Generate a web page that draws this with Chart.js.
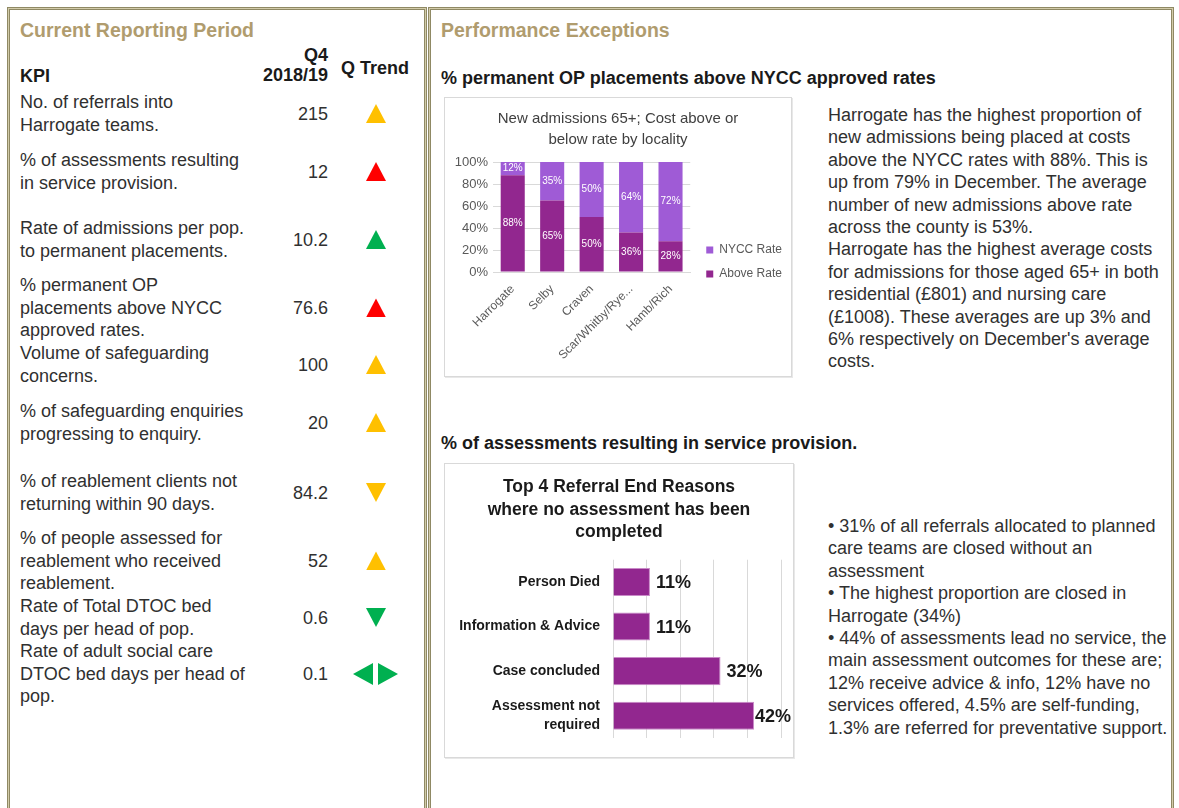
<!DOCTYPE html>
<html>
<head>
<meta charset="utf-8">
<script src="https://cdn.jsdelivr.net/npm/chart.js@4.4.1/dist/chart.umd.min.js"></script>
<style>
  body { margin: 0; width: 1179px; height: 808px; overflow: hidden; background: #fff;
         font-family: "Liberation Sans", Arial, sans-serif; color: #303030; position: relative; }
  .panel { position: absolute; top: 7px; height: 830px; box-sizing: border-box;
           border: 1px solid #8f8964; box-shadow: inset 0 0 0 1px #d2cba9, inset 0 0 0 2px #8f8964; }
  .ptitle { position: absolute; font-weight: bold; font-size: 19.5px; color: #b09c6e; line-height: 22px; }
  .abs { position: absolute; white-space: nowrap; }
  .txt { font-size: 18px; line-height: 22.4px; }
  .bold { font-weight: bold; color: #1a1a1a; }
  .val { position: absolute; font-size: 18px; line-height: 20px; text-align: right; width: 80px; left: 248px; }
  .tri { position: absolute; width: 20px; height: 19px; }
  .up { clip-path: polygon(50% 0, 100% 100%, 0 100%); }
  .down { clip-path: polygon(0 0, 100% 0, 50% 100%); }
  .lf { clip-path: polygon(100% 0, 100% 100%, 0 50%); }
  .rt { clip-path: polygon(0 0, 100% 50%, 0 100%); }
  .cbox { position: absolute; border: 1px solid #d9d9d9; box-shadow: 1px 1px 0 #e8e8e8; background: #fff; }
  .cbox canvas { display: block; }
</style>
</head>
<body>
<div class="panel" style="left:7px;width:420px"></div>
<div class="panel" style="left:428px;width:746px"></div>

<div class="ptitle" style="left:20px;top:19px">Current Reporting Period</div>
<div class="ptitle" style="left:441px;top:19px">Performance Exceptions</div>

<div class="abs txt bold" style="left:20px;top:65px">KPI</div>
<div class="abs txt bold" style="left:228px;width:100px;text-align:right;top:45px;line-height:20px">Q4<br>2018/19</div>
<div class="abs txt bold" style="left:331px;width:88px;text-align:center;top:57px">Q Trend</div>
<div id="kpi"></div>

<div class="abs txt bold" style="left:441px;top:67px">% permanent OP placements above NYCC approved rates</div>
<div class="cbox" style="left:444px;top:97px"><canvas id="c1" width="346" height="278"></canvas></div>
<div class="abs txt" style="left:828px;top:104px">
Harrogate has the highest proportion of<br>new admissions being placed at costs<br>above the NYCC rates with 88%. This is<br>up from 79% in December. The average<br>number of new admissions above rate<br>across the county is 53%.<br>Harrogate has the highest average costs<br>for admissions for those aged 65+ in both<br>residential (£801) and nursing care<br>(£1008). These averages are up 3% and<br>6% respectively on December's average<br>costs.
</div>

<div class="abs txt bold" style="left:441px;top:432px">% of assessments resulting in service provision.</div>
<div class="cbox" style="left:444px;top:463px"><canvas id="c2" width="348" height="293"></canvas></div>
<div class="abs txt" style="left:828px;top:515px">
• 31% of all referrals allocated to planned<br>care teams are closed without an<br>assessment<br>• The highest proportion are closed in<br>Harrogate (34%)<br>• 44% of assessments lead no service, the<br>main assessment outcomes for these are;<br>12% receive advice &amp; info, 12% have no<br>services offered, 4.5% are self-funding,<br>1.3% are referred for preventative support.
</div>

<script>
// KPI table
var kpiLabels = [
  ['No. of referrals into', 'Harrogate teams.'],
  ['% of assessments resulting', 'in service provision.'],
  ['Rate of admissions per pop.', 'to permanent placements.'],
  ['% permanent OP', 'placements above NYCC', 'approved rates.'],
  ['Volume of safeguarding', 'concerns.'],
  ['% of safeguarding enquiries', 'progressing to enquiry.'],
  ['% of reablement clients not', 'returning within 90 days.'],
  ['% of people assessed for', 'reablement who received', 'reablement.'],
  ['Rate of Total DTOC bed', 'days per head of pop.'],
  ['Rate of adult social care', 'DTOC bed days per head of', 'pop.']
];
var kpiValues = ['215', '12', '10.2', '76.6', '100', '20', '84.2', '52', '0.6', '0.1'];
var kpiTrend = ['up', 'up', 'up', 'up', 'up', 'up', 'down', 'up', 'down', 'flat'];
var kpiRag = ['amber', 'red', 'green', 'red', 'amber', 'amber', 'amber', 'amber', 'green', 'green'];

// chart 1: new admissions 65+
var localities = ['Harrogate', 'Selby', 'Craven', 'Scar/Whitby/Rye...', 'Hamb/Rich'];
var aboveRate = [88, 65, 50, 36, 28];
var nyccRate = [12, 35, 50, 64, 72];
var pctTicks = [0, 20, 40, 60, 80, 100];

// chart 2: referral end reasons
var endReasons = ['Person Died', 'Information & Advice', 'Case concluded', ['Assessment not', 'required']];
var endReasonPct = [11, 11, 32, 42];

// layout only
var ragColour = { amber: '#ffc000', red: '#ff0000', green: '#00b050' };
var rowTop = [91, 149, 217, 274, 342, 400, 470, 527, 595, 640];
var lineH = 22.6;

var html = '';
kpiLabels.forEach(function (lines, i) {
  var top = rowTop[i];
  var mid = top + lines.length * lineH / 2;
  html += '<div class="abs txt" style="left:20px;top:' + top + 'px;line-height:' + lineH + 'px">' + lines.join('<br>') + '</div>';
  html += '<div class="val" style="top:' + (mid - 10) + 'px">' + kpiValues[i] + '</div>';
  var c = ragColour[kpiRag[i]];
  if (kpiTrend[i] === 'flat') {
    html += '<div class="tri lf" style="left:353px;top:' + (mid - 11) + 'px;background:' + c + ';height:22px"></div>';
    html += '<div class="tri rt" style="left:378px;top:' + (mid - 11) + 'px;background:' + c + ';height:22px"></div>';
  } else {
    html += '<div class="tri ' + kpiTrend[i] + '" style="left:366px;top:' + (mid - 9.5) + 'px;background:' + c + '"></div>';
  }
});
document.getElementById('kpi').innerHTML = html;

// value labels drawn from the bar elements
var valueLabels = {
  id: 'valueLabels',
  afterDatasetsDraw: function (chart, args, o) {
    if (!o.mode) return;
    var ctx = chart.ctx;
    ctx.save();
    ctx.font = o.font;
    ctx.fillStyle = o.color;
    ctx.textBaseline = 'middle';
    chart.data.datasets.forEach(function (ds, i) {
      chart.getDatasetMeta(i).data.forEach(function (el, j) {
        var t = ds.data[j] + '%';
        if (o.mode === 'center') {
          ctx.textAlign = 'center';
          ctx.fillText(t, el.x, (el.y + el.base) / 2);
        } else {
          // like Excel: keep the label inside the chart box
          var w = ctx.measureText(t).width;
          ctx.textAlign = 'left';
          ctx.fillText(t, Math.min(el.x + 6, chart.width - 2 - w), el.y + 1);
        }
      });
    });
    ctx.restore();
  }
};

// title centred on the whole box, legend nudged down/right
var boxTweak = {
  id: 'boxTweak',
  afterLayout: function (chart, args, o) {
    var t = chart.titleBlock;
    if (t) { t.left = 0; t.right = chart.width; t.width = chart.width; }
    var lg = chart.legend;
    if (lg && o.legendDy !== undefined) {
      lg.top += o.legendDy;
      lg.bottom += o.legendDy;
      lg.left += o.legendDx;
      lg.right = chart.width;
      lg.width = lg.right - lg.left;
    }
  }
};

Chart.defaults.font.family = '"Liberation Sans", Arial, sans-serif';
Chart.defaults.animation = false;

new Chart(document.getElementById('c1'), {
  type: 'bar',
  data: {
    labels: localities,
    datasets: [
      { label: 'Above Rate', data: aboveRate, backgroundColor: '#92278f', barPercentage: 0.61, categoryPercentage: 1 },
      { label: 'NYCC Rate', data: nyccRate, backgroundColor: '#9f5bd6', barPercentage: 0.61, categoryPercentage: 1 }
    ]
  },
  options: {
    responsive: false,
    devicePixelRatio: 1,
    layout: { padding: { right: 19, bottom: 0 } },
    scales: {
      x: {
        stacked: true,
        grid: { display: false },
        border: { color: '#d9d9d9' },
        ticks: { color: '#595959', font: { size: 12 }, minRotation: 45, maxRotation: 45, padding: 2 },
        afterFit: function (s) { s.height = 104; }
      },
      y: {
        stacked: true,
        min: 0, max: 100,
        afterBuildTicks: function (s) { s.ticks = pctTicks.map(function (v) { return { value: v }; }); },
        grid: { color: '#d9d9d9', drawTicks: false },
        border: { display: false },
        ticks: { color: '#595959', font: { size: 13 }, padding: 5, callback: function (v) { return v + '%'; } },
        afterFit: function (s) { s.width = 48; }
      }
    },
    plugins: {
      title: {
        display: true,
        text: ['New admissions 65+; Cost above or', 'below rate by locality'],
        color: '#404040',
        font: { size: 15, weight: 'normal', lineHeight: 1.4 },
        padding: { top: 10, bottom: 12 }
      },
      legend: {
        position: 'right', align: 'end', fullSize: false, reverse: true,
        labels: { boxWidth: 7, boxHeight: 7, color: '#595959', font: { size: 12 }, padding: 12 }
      },
      boxTweak: { legendDy: 20, legendDx: 4 },
      tooltip: { enabled: false },
      valueLabels: { mode: 'center', font: '10px "Liberation Sans", Arial, sans-serif', color: '#ffffff' }
    }
  },
  plugins: [valueLabels, boxTweak]
});

new Chart(document.getElementById('c2'), {
  type: 'bar',
  data: {
    labels: endReasons,
    datasets: [
      { label: 'Referral end reason', data: endReasonPct, backgroundColor: '#92278f', borderColor: '#c98ac8', borderWidth: 1,
        barPercentage: 0.63, categoryPercentage: 1 }
    ]
  },
  options: {
    responsive: false,
    devicePixelRatio: 1,
    indexAxis: 'y',
    layout: { padding: { right: 12, bottom: 19 } },
    scales: {
      x: {
        min: 0, max: 50,
        ticks: { display: false, stepSize: 10 },
        grid: { color: '#d9d9d9', drawTicks: false },
        border: { display: false },
        afterFit: function (s) { s.height = 0; }
      },
      y: {
        grid: { display: false },
        border: { display: false },
        ticks: { color: '#1a1a1a', font: { size: 14, weight: 'bold', lineHeight: 1.3 }, padding: 5 },
        afterFit: function (s) { s.width = 168; }
      }
    },
    plugins: {
      title: {
        display: true,
        text: ['Top 4 Referral End Reasons', 'where no assessment has been', 'completed'],
        color: '#1a1a1a',
        font: { size: 17.5, weight: 'bold', lineHeight: 1.29 },
        padding: { top: 12, bottom: 16 }
      },
      legend: { display: false },
      boxTweak: {},
      tooltip: { enabled: false },
      valueLabels: { mode: 'end', font: 'bold 18px "Liberation Sans", Arial, sans-serif', color: '#1a1a1a' }
    }
  },
  plugins: [valueLabels, boxTweak]
});
</script>
</body>
</html>
